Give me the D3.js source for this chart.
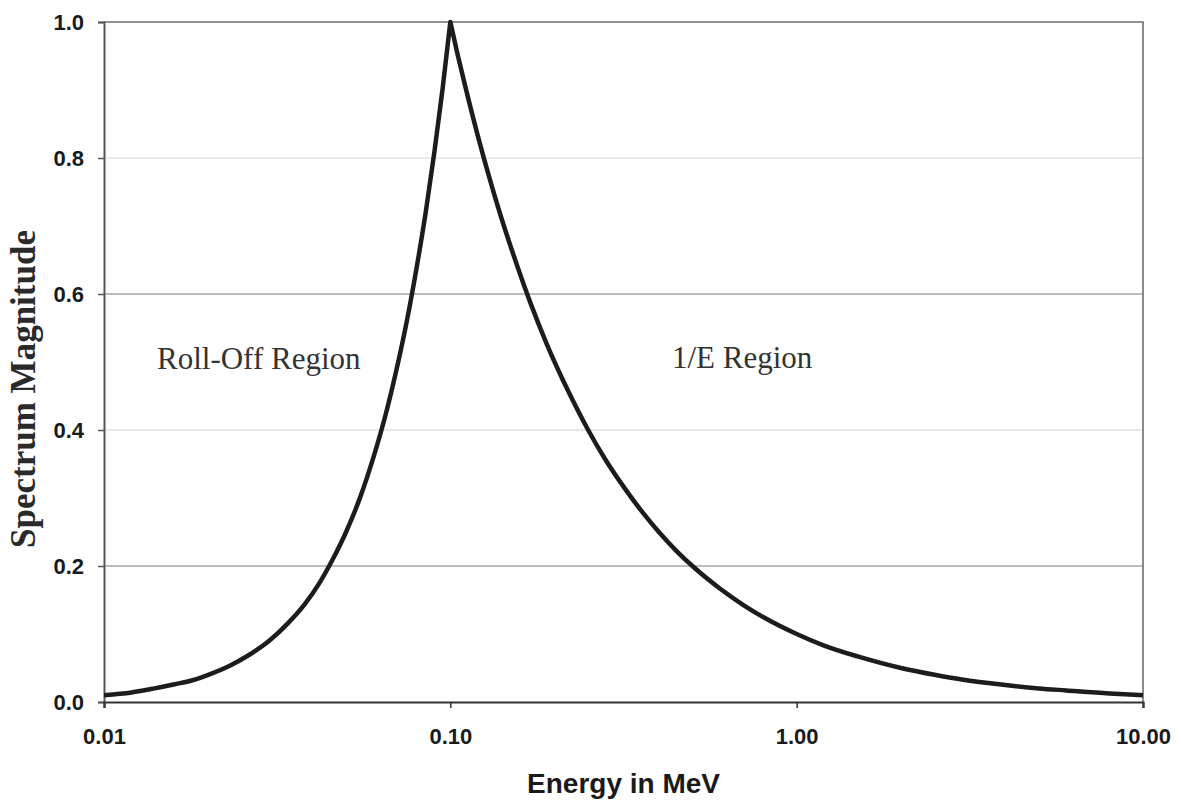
<!DOCTYPE html>
<html>
<head>
<meta charset="utf-8">
<script src="https://cdn.jsdelivr.net/npm/d3@7"></script>
<style>
  html, body { margin: 0; padding: 0; background: #fff; }
  svg { display: block; }
</style>
</head>
<body>
<svg id="chart" width="1181" height="800"></svg>
<script>
// Rising branch (roll-off below the peak)
const riseEnergy = [0.010, 0.012, 0.014, 0.016, 0.018, 0.020, 0.023, 0.026, 0.030, 0.034, 0.038, 0.042,
                    0.046, 0.050, 0.055, 0.060, 0.065, 0.070, 0.075, 0.080, 0.085, 0.090, 0.095, 0.100];
const riseMagnitude = [0.010, 0.014, 0.020, 0.026, 0.032, 0.040, 0.053, 0.068, 0.090, 0.116, 0.144, 0.176,
                       0.212, 0.250, 0.302, 0.360, 0.422, 0.490, 0.562, 0.640, 0.722, 0.810, 0.902, 1.000];
// Falling branch (1/E above the peak)
const fallEnergy = [0.100, 0.105, 0.11, 0.12, 0.13, 0.14, 0.15, 0.17, 0.19, 0.22, 0.25, 0.28, 0.32, 0.36,
                    0.40, 0.45, 0.50, 0.60, 0.70, 0.80, 1.0, 1.2, 1.5, 2.0, 2.5, 3.0, 4.0, 5.0, 6.0, 8.0, 10.0];
const fallMagnitude = [1.000, 0.952, 0.909, 0.833, 0.769, 0.714, 0.667, 0.588, 0.526, 0.455, 0.400, 0.357,
                       0.313, 0.278, 0.250, 0.222, 0.200, 0.167, 0.143, 0.125, 0.100, 0.083, 0.067, 0.050,
                       0.040, 0.033, 0.025, 0.020, 0.017, 0.0125, 0.010];

const xTicks = [0.01, 0.1, 1, 10];
const xTickLabels = ["0.01", "0.10", "1.00", "10.00"];
const yTicks = [0, 0.2, 0.4, 0.6, 0.8, 1.0];
const yTickLabels = ["0.0", "0.2", "0.4", "0.6", "0.8", "1.0"];

const svg = d3.select("#chart");
const plotLeft = 104, plotRight = 1143, plotTop = 22, plotBottom = 702;

const x = d3.scaleLog().domain([0.01, 10]).range([plotLeft, plotRight]);
const y = d3.scaleLinear().domain([0, 1]).range([plotBottom, plotTop]);

// Horizontal gridlines
const gridColor = { 0.2: "#7a7a7a", 0.4: "#cfcfcf", 0.6: "#7a7a7a", 0.8: "#d6d6d6" };
svg.append("g").selectAll("line")
  .data([0.2, 0.4, 0.6, 0.8])
  .join("line")
  .attr("x1", plotLeft).attr("x2", plotRight)
  .attr("y1", d => y(d)).attr("y2", d => y(d))
  .attr("stroke", d => gridColor[d])
  .attr("stroke-width", 1.2);

// Top and right frame
svg.append("path")
  .attr("d", `M${plotLeft},${y(1)}H${plotRight}V${y(0)}`)
  .attr("fill", "none").attr("stroke", "#6e6e6e").attr("stroke-width", 1.6);

// Y axis
const yAxis = d3.axisLeft(y).tickValues(yTicks)
  .tickFormat((d, i) => yTickLabels[i]).tickSize(6).tickPadding(14);
const gy = svg.append("g").attr("transform", `translate(${plotLeft},0)`).call(yAxis);
gy.select(".domain").attr("stroke", "#555").attr("stroke-width", 2);
gy.selectAll(".tick line").attr("stroke", "#555").attr("stroke-width", 1.5);
gy.selectAll(".tick text")
  .attr("font-family", "'Liberation Sans', Arial, sans-serif")
  .attr("font-weight", "bold").attr("font-size", 22).attr("fill", "#1a1a1a");

// X axis
const xAxis = d3.axisBottom(x).tickValues(xTicks)
  .tickFormat((d, i) => xTickLabels[i]).tickSize(6).tickPadding(20);
const gx = svg.append("g").attr("transform", `translate(0,${plotBottom})`).call(xAxis);
gx.select(".domain").attr("stroke", "#333").attr("stroke-width", 2.2);
gx.selectAll(".tick line").attr("stroke", "#333").attr("stroke-width", 1.5);
gx.selectAll(".tick text")
  .attr("font-family", "'Liberation Sans', Arial, sans-serif")
  .attr("font-weight", "bold").attr("font-size", 22).attr("fill", "#1a1a1a");

// Spectrum curve: two monotone branches joined at the peak
const line = d3.line().x(d => x(d[0])).y(d => y(d[1])).curve(d3.curveMonotoneX);
const rise = riseEnergy.map((e, i) => [e, riseMagnitude[i]]);
const fall = fallEnergy.map((e, i) => [e, fallMagnitude[i]]);
const pathD = line(rise) + line(fall).replace(/^M/, "L");
svg.append("path")
  .attr("d", pathD)
  .attr("fill", "none")
  .attr("stroke", "#1c1c1c")
  .attr("stroke-width", 4.5)
  .attr("stroke-linejoin", "round");

// Region annotations
const serif = "'Liberation Serif', 'Times New Roman', serif";
svg.append("text").attr("x", 157).attr("y", 369)
  .attr("font-family", serif).attr("font-size", 31).attr("fill", "#333")
  .text("Roll-Off Region");
svg.append("text").attr("x", 672).attr("y", 368)
  .attr("font-family", serif).attr("font-size", 31).attr("fill", "#333")
  .text("1/E Region");

// Axis titles
svg.append("text")
  .attr("x", (plotLeft + plotRight) / 2).attr("y", 793)
  .attr("text-anchor", "middle")
  .attr("font-family", "'Liberation Sans', Arial, sans-serif")
  .attr("font-weight", "bold").attr("font-size", 28).attr("fill", "#1a1a1a")
  .text("Energy in MeV");
svg.append("text")
  .attr("transform", "translate(35,389) rotate(-90)")
  .attr("text-anchor", "middle")
  .attr("font-family", serif)
  .attr("font-weight", "bold").attr("font-size", 35).attr("fill", "#2a2a2a")
  .text("Spectrum Magnitude");
</script>
</body>
</html>
